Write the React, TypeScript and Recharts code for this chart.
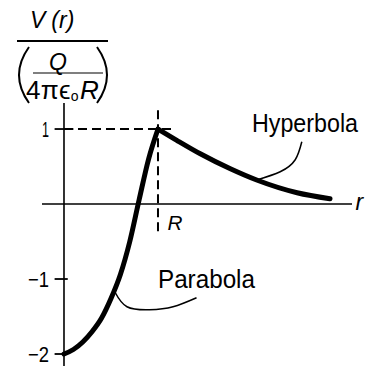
import React from 'react';
import { ComposedChart, Line, XAxis, YAxis, ReferenceLine, ReferenceDot } from 'recharts';

// Radial distance r in units of R, potential V in units of Q/(4πϵ₀R)
const parabolaR = [0, 0.1, 0.2, 0.3, 0.4, 0.5, 0.6, 0.7, 0.8, 0.9, 1.0];
const parabolaV = [-2, -1.94, -1.84, -1.7, -1.52, -1.26, -0.94, -0.5, 0.06, 0.6, 1];
const hyperbolaR = [1, 1.2, 1.45, 1.77, 2.05, 2.48, 2.83];
const hyperbolaV = [1, 0.85, 0.67, 0.47, 0.32, 0.15, 0.07];

// Curved pointer lines from the labels to the curves
const parabolaLeaderR = [0.54, 0.67, 0.91, 1.16, 1.41];
const parabolaLeaderV = [-1.17, -1.37, -1.41, -1.37, -1.25];
const hyperbolaLeaderR = [2.05, 2.3, 2.46, 2.53];
const hyperbolaLeaderV = [0.32, 0.43, 0.59, 0.83];

const yTicks = [1, -1, -2];
const yTickLabels = ['1', '−1', '−2'];

const X_DOMAIN: [number, number] = [-0.234, 3.064];
const Y_DOMAIN: [number, number] = [-2.16, 1.347];

const FONT = '"Liberation Sans", Arial, sans-serif';
const INK = '#000';

const toPoints = (rs: number[], vs: number[]) => rs.map((r, i) => ({ r, v: vs[i] }));

const parabola = toPoints(parabolaR, parabolaV);
const hyperbola = toPoints(hyperbolaR, hyperbolaV);
const parabolaLeader = toPoints(parabolaLeaderR, parabolaLeaderV);
const hyperbolaLeader = toPoints(hyperbolaLeaderR, hyperbolaLeaderV);

const textAt = (
  label: string,
  anchor: 'start' | 'middle' | 'end',
  size: number,
  opts: { italic?: boolean; central?: boolean; length?: number } = {}
) => (p: any) => (
  <text
    x={p.cx}
    y={p.cy}
    textAnchor={anchor}
    dominantBaseline={opts.central ? 'central' : 'alphabetic'}
    fontFamily={FONT}
    fontSize={size}
    fontStyle={opts.italic ? 'italic' : 'normal'}
    textLength={opts.length}
    lengthAdjust={opts.length ? 'spacingAndGlyphs' : undefined}
    fill={INK}
  >
    {label}
  </text>
);

// Axis title: V(r) over Q/(4πϵ₀R)
const Heading = () => (
  <svg
    width={369}
    height={112}
    style={{ position: 'absolute', left: 0, top: 0, pointerEvents: 'none' }}
    fontFamily={FONT}
    fill={INK}
  >
    <text x={30} y={28} fontSize={23} fontStyle="italic">
      V<tspan dx={6}>(</tspan>r)
    </text>
    <line x1={17} y1={41} x2={108} y2={41} stroke={INK} strokeWidth={1.8} />
    <path d="M 29 47 Q 9 75 29 103" fill="none" stroke={INK} strokeWidth={2} />
    <path d="M 97 47 Q 117 75 97 103" fill="none" stroke={INK} strokeWidth={2} />
    <text x={49} y={70} fontSize={23} fontStyle="italic">Q</text>
    <line x1={33} y1={73} x2={103} y2={73} stroke={INK} strokeWidth={1.2} />
    <text x={26} y={99} fontSize={26} letterSpacing={0.3}>
      4πϵ<tspan fontSize={14} dy={2}>o</tspan>
      <tspan dy={-2} dx={1} fontStyle="italic">R</tspan>
    </text>
  </svg>
);

export default function App() {
  return (
    <div style={{ position: 'absolute', left: 0, top: 0, width: 369, height: 366, background: '#fff' }}>
      <ComposedChart
        width={369}
        height={366}
        margin={{ top: 103, right: 17, bottom: 0, left: 42 }}
      >
        <XAxis type="number" dataKey="r" domain={X_DOMAIN} allowDataOverflow hide />
        <YAxis type="number" dataKey="v" domain={Y_DOMAIN} allowDataOverflow hide />

        {/* coordinate axes */}
        <ReferenceLine y={0} stroke={INK} strokeWidth={1.6} />
        <ReferenceLine x={0} stroke={INK} strokeWidth={1.6} />

        {/* y tick marks and labels */}
        {yTicks.map((t) => (
          <ReferenceLine
            key={`tick-${t}`}
            segment={[{ x: -0.1, y: t }, { x: t === 1 ? 0.1 : 0.04, y: t }]}
            stroke={INK}
            strokeWidth={1.8}
          />
        ))}
        {yTicks.map((t, i) => (
          <ReferenceDot
            key={`tl-${t}`}
            x={-0.16}
            y={t}
            r={0}
            ifOverflow="visible"
            shape={textAt(yTickLabels[i], 'end', 22, { central: true, length: i === 0 ? 7 : 21 })}
          />
        ))}

        {/* dashed guides to the peak at r = R */}
        <ReferenceLine
          segment={[{ x: 0, y: 1 }, { x: 1.15, y: 1 }]}
          stroke={INK}
          strokeWidth={2}
          strokeDasharray="9 5"
        />
        <ReferenceLine
          segment={[{ x: 1, y: 1.25 }, { x: 1, y: -0.37 }]}
          stroke={INK}
          strokeWidth={2}
          strokeDasharray="9 5"
        />

        {/* potential curves */}
        <Line
          data={parabola}
          dataKey="v"
          type="monotone"
          stroke={INK}
          strokeWidth={5}
          strokeLinecap="round"
          dot={false}
          activeDot={false}
          isAnimationActive={false}
        />
        <Line
          data={hyperbola}
          dataKey="v"
          type="monotone"
          stroke={INK}
          strokeWidth={5}
          strokeLinecap="round"
          dot={false}
          activeDot={false}
          isAnimationActive={false}
        />

        {/* label pointers */}
        <Line
          data={parabolaLeader}
          dataKey="v"
          type="natural"
          stroke={INK}
          strokeWidth={1.5}
          dot={false}
          activeDot={false}
          isAnimationActive={false}
        />
        <Line
          data={hyperbolaLeader}
          dataKey="v"
          type="natural"
          stroke={INK}
          strokeWidth={1.5}
          dot={false}
          activeDot={false}
          isAnimationActive={false}
        />

        {/* text annotations */}
        <ReferenceDot x={2.0} y={0.96} r={0} ifOverflow="visible" shape={textAt('Hyperbola', 'start', 25, { length: 106 })} />
        <ReferenceDot x={1.0} y={-1.12} r={0} ifOverflow="visible" shape={textAt('Parabola', 'start', 25, { length: 97 })} />
        <ReferenceDot x={1.1} y={-0.35} r={0} ifOverflow="visible" shape={textAt('R', 'start', 21, { italic: true, length: 15 })} />
        <ReferenceDot x={3.1} y={-0.08} r={0} ifOverflow="visible" shape={textAt('r', 'start', 23, { italic: true })} />
      </ComposedChart>
      <Heading />
    </div>
  );
}
